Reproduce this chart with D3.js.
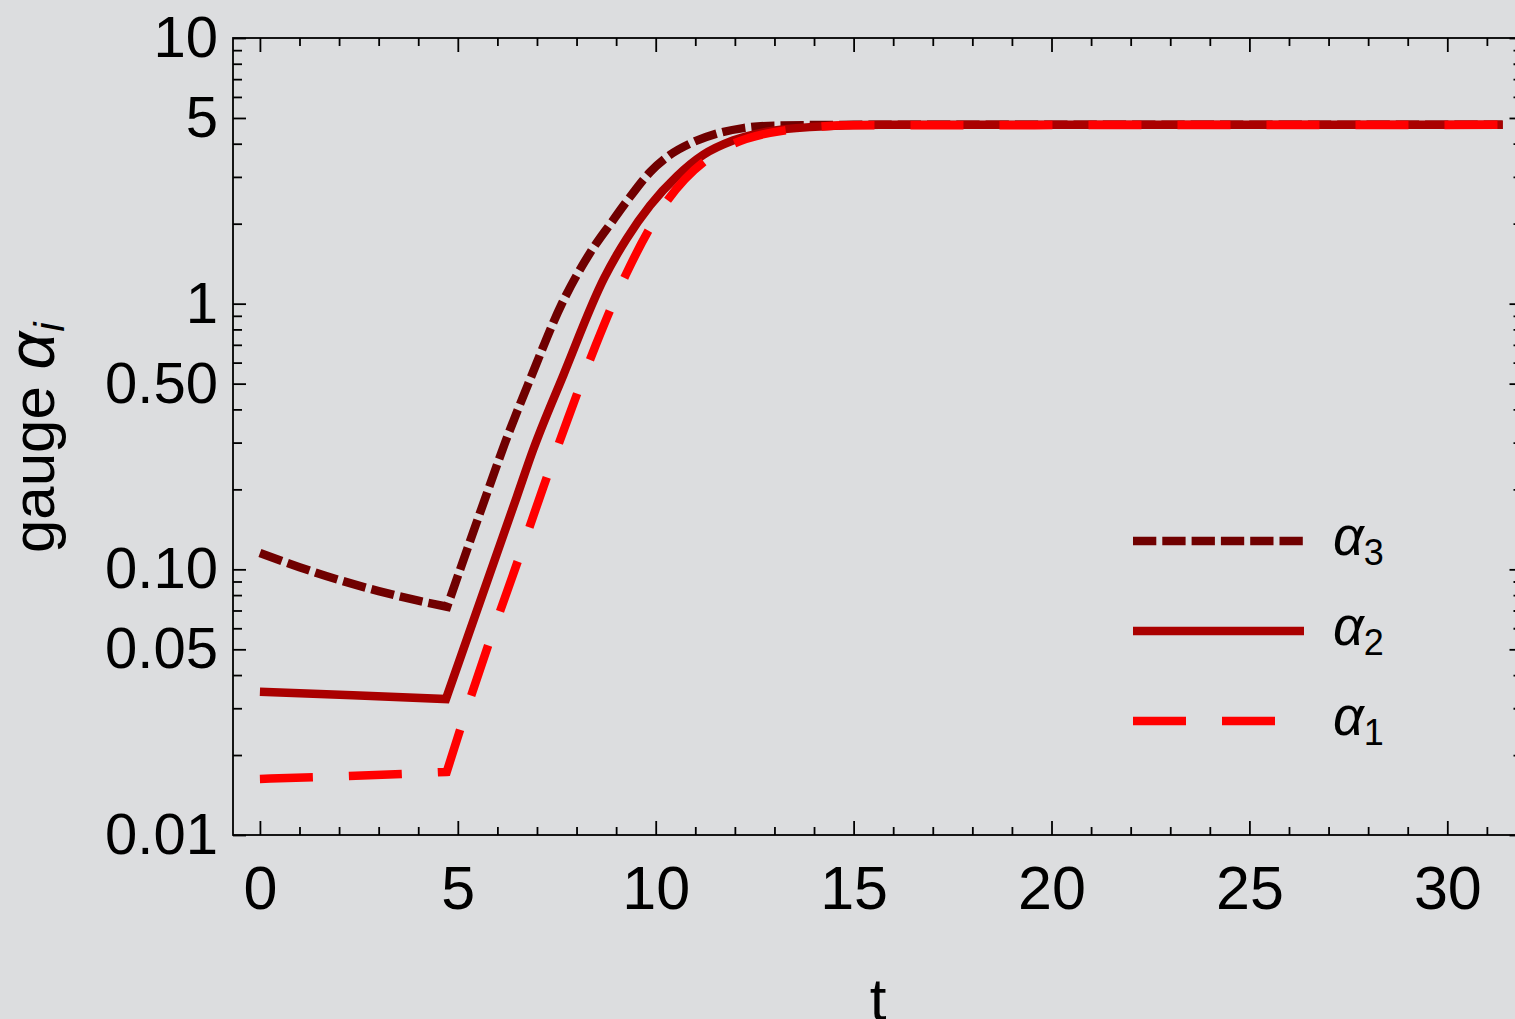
<!DOCTYPE html>
<html>
<head>
<meta charset="utf-8">
<script src="https://cdn.jsdelivr.net/npm/d3@7"></script>
<style>
  body { margin: 0; background: #dcdddf; }
  svg { display: block; }
</style>
</head>
<body>
<svg width="1515" height="1019"></svg>
<script>
// alpha_3 (dark red, short dashes)
var t3 = [0, 1, 2, 3, 4, 4.73, 5.74, 6.19, 6.82, 7.63, 8.34, 8.9, 9.27, 9.86, 10.36, 10.94, 11.55, 12.21, 13.07, 15.0, 31.4];
var a3 = [0.1153, 0.1019, 0.0912, 0.0828, 0.0762, 0.0723, 0.194, 0.2985, 0.516, 1.0, 1.552, 2.04, 2.43, 3.13, 3.63, 4.05, 4.37, 4.58, 4.68, 4.71, 4.71];
// alpha_2 (solid)
var t2 = [0, 2.35, 4.70, 6.49, 6.90, 7.67, 8.70, 9.01, 9.27, 9.86, 10.54, 11.2, 11.95, 12.81, 13.9, 15.67, 31.4];
var a2 = [0.0346, 0.0336, 0.0325, 0.1875, 0.281, 0.54, 1.25, 1.52, 1.76, 2.344, 3.02, 3.63, 4.11, 4.44, 4.62, 4.71, 4.71];
// alpha_1 (red, long dashes)
var t1 = [0, 2.42, 4.72, 5.21, 5.84, 6.49, 7.13, 7.79, 8.48, 9.25, 10.18, 11.52, 13.34, 15.0, 31.4];
var a1 = [0.01626, 0.0167, 0.01728, 0.0293, 0.0557, 0.1047, 0.198, 0.372, 0.695, 1.29, 2.31, 3.68, 4.51, 4.69, 4.71];

var xMajor = [0, 5, 10, 15, 20, 25, 30];
var yMajor = [0.01, 0.05, 0.1, 0.5, 1, 5, 10];
var yMajorLabels = ["0.01", "0.05", "0.10", "0.50", "1", "5", "10"];

var font = "'Liberation Sans', Arial, sans-serif";

var svg = d3.select("svg"),
    plotLeft = 233, plotTop = 38, plotRight = 1522.5, plotBottom = 835;

svg.append("rect").attr("width", 1515).attr("height", 1019).attr("fill", "#dcdddf");

var x = d3.scaleLinear().domain([-0.68, 31.9]).range([plotLeft, plotRight]),
    y = d3.scaleLog().domain([0.01, 10]).range([plotBottom, plotTop]);

var xMinor = d3.range(0, 32).filter(function(d) { return d % 5 != 0; });
var yMinor = [];
[0.01, 0.1, 1].forEach(function(b) {
  for (var k = 2; k <= 9; k++) if (k != 5) yMinor.push(+(b * k).toPrecision(2));
});

var series = [
  {id: "3", t: t3, v: a3, kink: 5, color: "#700000", dash: "23.3,6"},
  {id: "2", t: t2, v: a2, kink: 2, color: "#aa0000", dash: null},
  {id: "1", t: t1, v: a1, kink: 2, color: "#ff0000", dash: "53,36"}
];

svg.append("defs").append("clipPath").attr("id", "plot")
  .append("rect").attr("x", plotLeft).attr("y", plotTop)
  .attr("width", plotRight - plotLeft).attr("height", plotBottom - plotTop);

var line = d3.line()
    .curve(d3.curveMonotoneX)
    .x(function(d) { return x(d.t); })
    .y(function(d) { return y(d.v); });

// smooth on each side of the kink, sharp corner at the kink
function pathFor(s) {
  var pts = s.t.map(function(t, i) { return {t: t, v: s.v[i]}; });
  var pre = line(pts.slice(0, s.kink + 1)),
      post = line(pts.slice(s.kink));
  return pre + post.replace(/^M/, "L");
}

svg.append("g").attr("clip-path", "url(#plot)")
  .selectAll("path")
  .data(series)
  .enter().append("path")
    .attr("d", pathFor)
    .attr("fill", "none")
    .attr("stroke", function(d) { return d.color; })
    .attr("stroke-width", 8.5)
    .attr("stroke-dasharray", function(d) { return d.dash; });

// axes (ticks point inwards, box frame)
function styleAxis(g) {
  g.select(".domain").remove();
  g.selectAll("line").attr("stroke", "#000").attr("stroke-width", 1.8);
  g.attr("font-family", font);
}

svg.append("g").attr("transform", "translate(0," + plotBottom + ")")
  .call(d3.axisBottom(x).tickValues(xMajor).tickSize(-14).tickPadding(31).tickFormat(d3.format("d")))
  .call(styleAxis)
  .attr("font-size", 61)
  .selectAll("text").attr("fill", "#000");
svg.append("g").attr("transform", "translate(0," + plotBottom + ")")
  .call(d3.axisBottom(x).tickValues(xMinor).tickSize(-8).tickFormat(""))
  .call(styleAxis);
svg.append("g").attr("transform", "translate(0," + plotTop + ")")
  .call(d3.axisTop(x).tickValues(xMajor).tickSize(-14).tickFormat(""))
  .call(styleAxis);
svg.append("g").attr("transform", "translate(0," + plotTop + ")")
  .call(d3.axisTop(x).tickValues(xMinor).tickSize(-8).tickFormat(""))
  .call(styleAxis);

svg.append("g").attr("transform", "translate(" + plotLeft + ",0)")
  .call(d3.axisLeft(y).tickValues(yMajor).tickSize(-13).tickPadding(15)
    .tickFormat(function(d, i) { return yMajorLabels[i]; }))
  .call(styleAxis)
  .attr("font-size", 58)
  .selectAll("text").attr("fill", "#000");
svg.append("g").attr("transform", "translate(" + plotLeft + ",0)")
  .call(d3.axisLeft(y).tickValues(yMinor).tickSize(-9).tickFormat(""))
  .call(styleAxis);
svg.append("g").attr("transform", "translate(" + plotRight + ",0)")
  .call(d3.axisRight(y).tickValues(yMajor).tickSize(-13).tickFormat(""))
  .call(styleAxis);
svg.append("g").attr("transform", "translate(" + plotRight + ",0)")
  .call(d3.axisRight(y).tickValues(yMinor).tickSize(-9).tickFormat(""))
  .call(styleAxis);

svg.append("rect")
  .attr("x", plotLeft).attr("y", plotTop)
  .attr("width", plotRight - plotLeft).attr("height", plotBottom - plotTop)
  .attr("fill", "none").attr("stroke", "#000").attr("stroke-width", 1.8);

// axis labels
svg.append("text")
  .attr("x", 878).attr("y", 1020)
  .attr("text-anchor", "middle")
  .attr("font-family", font).attr("font-size", 60)
  .text("t");

var yl = svg.append("text")
  .attr("transform", "translate(54,553) rotate(-90)")
  .attr("font-family", font).attr("font-size", 60);
yl.append("tspan").text("gauge ");
yl.append("tspan").attr("font-style", "italic").attr("font-size", 66).text("α");
yl.append("tspan").attr("font-style", "italic").attr("font-size", 42).attr("dy", 10).text("i");

// legend
var legend = svg.selectAll(".legend")
  .data(series)
  .enter().append("g")
    .attr("class", "legend")
    .attr("transform", function(d, i) { return "translate(1133," + (541 + i * 90) + ")"; });

legend.append("line")
  .attr("x1", 0).attr("x2", 171)
  .attr("stroke", function(d) { return d.color; })
  .attr("stroke-width", 8.5)
  .attr("stroke-dasharray", function(d) { return d.dash; });

var lt = legend.append("text")
  .attr("x", 200).attr("y", 14)
  .attr("font-family", font).attr("font-size", 54);
lt.append("tspan").attr("font-style", "italic").text("α");
lt.append("tspan").attr("font-size", 36).attr("dy", 10).text(function(d) { return d.id; });
</script>
</body>
</html>
